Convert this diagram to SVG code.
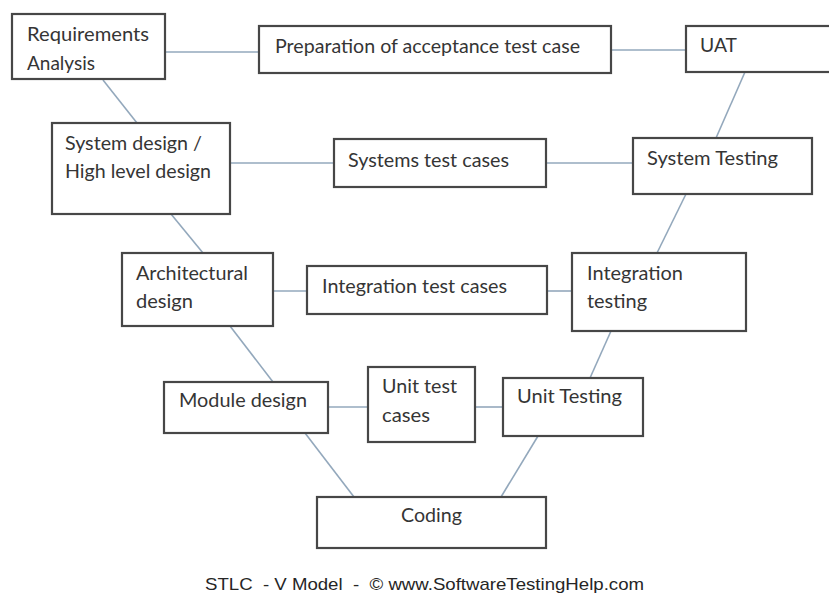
<svg xmlns="http://www.w3.org/2000/svg" width="829" height="596" viewBox="0 0 829 596">
  <style>
    .box { fill: #ffffff; stroke: #474747; stroke-width: 2.2; }
    .lbl { font-family: Lato, "Open Sans", "Liberation Sans", sans-serif; font-size: 19px; fill: #353535; }
    .link { stroke: #93a8bc; stroke-width: 1.6; fill: none; }
    .caption { font-family: "Liberation Sans", Arial, sans-serif; font-size: 17px; fill: #262626; white-space: pre; }
  </style>
  <rect width="829" height="596" fill="#ffffff"/>

  <!-- connectors -->
  <g id="connectors">
    <line class="link" x1="165" y1="52" x2="259" y2="52"/>
    <line class="link" x1="611" y1="50" x2="686" y2="50"/>
    <line class="link" x1="103" y1="80" x2="137" y2="123"/>
    <line class="link" x1="745" y1="72" x2="716" y2="138"/>
    <line class="link" x1="230" y1="163" x2="334" y2="163"/>
    <line class="link" x1="546" y1="163" x2="633" y2="163"/>
    <line class="link" x1="171" y1="214" x2="203" y2="253"/>
    <line class="link" x1="686" y1="194" x2="657" y2="253"/>
    <line class="link" x1="273" y1="291" x2="307" y2="291"/>
    <line class="link" x1="547" y1="291" x2="572" y2="291"/>
    <line class="link" x1="230" y1="326" x2="273" y2="382"/>
    <line class="link" x1="611" y1="331" x2="590" y2="378"/>
    <line class="link" x1="328" y1="407" x2="368" y2="407"/>
    <line class="link" x1="475" y1="407" x2="503" y2="407"/>
    <line class="link" x1="305" y1="433" x2="354" y2="497"/>
    <line class="link" x1="538" y1="436" x2="501" y2="497"/>
  </g>

  <g id="requirements-analysis">
    <rect class="box" x="12" y="14" width="153" height="65"/>
    <text class="lbl" x="27" y="41" textLength="122" lengthAdjust="spacingAndGlyphs">Requirements</text>
    <text class="lbl" x="27" y="70" textLength="68" lengthAdjust="spacingAndGlyphs">Analysis</text>
  </g>

  <g id="acceptance-test-case">
    <rect class="box" x="259" y="26" width="352" height="47"/>
    <text class="lbl" x="275" y="53" textLength="305" lengthAdjust="spacingAndGlyphs">Preparation of acceptance test case</text>
  </g>

  <g id="uat">
    <rect class="box" x="686" y="26" width="150" height="46"/>
    <text class="lbl" x="700" y="52" textLength="37" lengthAdjust="spacingAndGlyphs">UAT</text>
  </g>

  <g id="system-design">
    <rect class="box" x="52" y="123" width="178" height="91"/>
    <text class="lbl" x="65" y="150" textLength="137" lengthAdjust="spacingAndGlyphs">System design /</text>
    <text class="lbl" x="65" y="178" textLength="146" lengthAdjust="spacingAndGlyphs">High level design</text>
  </g>

  <g id="systems-test-cases">
    <rect class="box" x="334" y="139" width="212" height="48"/>
    <text class="lbl" x="348" y="167" textLength="161" lengthAdjust="spacingAndGlyphs">Systems test cases</text>
  </g>

  <g id="system-testing">
    <rect class="box" x="633" y="138" width="179" height="56"/>
    <text class="lbl" x="647" y="165" textLength="131" lengthAdjust="spacingAndGlyphs">System Testing</text>
  </g>

  <g id="architectural-design">
    <rect class="box" x="122" y="253" width="151" height="73"/>
    <text class="lbl" x="136" y="280" textLength="112" lengthAdjust="spacingAndGlyphs">Architectural</text>
    <text class="lbl" x="136" y="308" textLength="57" lengthAdjust="spacingAndGlyphs">design</text>
  </g>

  <g id="integration-test-cases">
    <rect class="box" x="307" y="266" width="240" height="48"/>
    <text class="lbl" x="322" y="293" textLength="185" lengthAdjust="spacingAndGlyphs">Integration test cases</text>
  </g>

  <g id="integration-testing">
    <rect class="box" x="572" y="253" width="174" height="78"/>
    <text class="lbl" x="587" y="280" textLength="96" lengthAdjust="spacingAndGlyphs">Integration</text>
    <text class="lbl" x="587" y="308" textLength="60" lengthAdjust="spacingAndGlyphs">testing</text>
  </g>

  <g id="module-design">
    <rect class="box" x="164" y="382" width="164" height="51"/>
    <text class="lbl" x="179" y="407" textLength="128" lengthAdjust="spacingAndGlyphs">Module design</text>
  </g>

  <g id="unit-test-cases">
    <rect class="box" x="368" y="367" width="107" height="75"/>
    <text class="lbl" x="382" y="393" textLength="75" lengthAdjust="spacingAndGlyphs">Unit test</text>
    <text class="lbl" x="382" y="422" textLength="48" lengthAdjust="spacingAndGlyphs">cases</text>
  </g>

  <g id="unit-testing">
    <rect class="box" x="503" y="378" width="140" height="58"/>
    <text class="lbl" x="517" y="403" textLength="105" lengthAdjust="spacingAndGlyphs">Unit Testing</text>
  </g>

  <g id="coding">
    <rect class="box" x="317" y="497" width="229" height="51"/>
    <text class="lbl" x="401" y="522" textLength="61" lengthAdjust="spacingAndGlyphs">Coding</text>
  </g>

  <text class="caption" x="205" y="590" textLength="439" lengthAdjust="spacingAndGlyphs">STLC  - V Model  -  © www.SoftwareTestingHelp.com</text>
</svg>
